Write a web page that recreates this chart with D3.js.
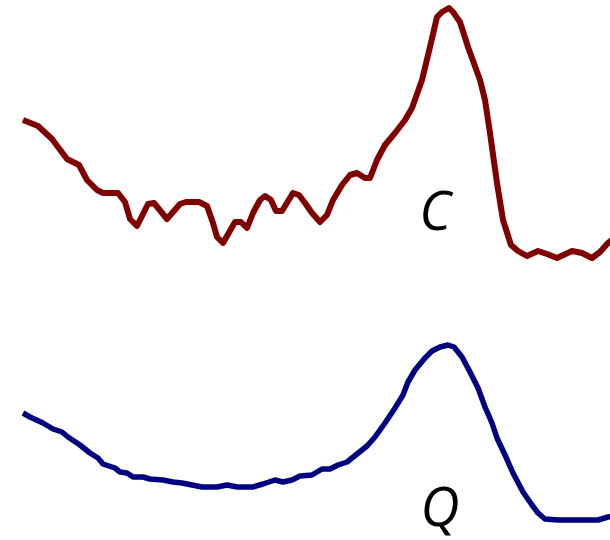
<!DOCTYPE html>
<html>
<head>
<meta charset="utf-8">
<script src="https://cdn.jsdelivr.net/npm/d3@7"></script>
<style>
  html, body { margin: 0; padding: 0; background: #fff; }
  svg { display: block; }
  .lbl { font-family: "Open Sans", sans-serif; font-style: italic; fill: #000; }
</style>
</head>
<body>
<div id="chart"></div>
<script>
// Position along the profile (shared by both traces)
const xC = [0, 3, 5.8, 8.8, 11.2, 12.8, 14.8, 16, 19, 20.4, 21.4, 22.8, 25, 26.2, 28.8, 31.4, 32.6, 35.2, 36.8, 38, 38.8, 40, 42.4, 43.6, 44.8, 46, 47.4, 48.4, 49.6, 50.6, 51.8, 54, 55.2, 56.4, 57.8, 59.4, 60.8, 62, 63.8, 65.4, 66.8, 68.4, 69.4, 70.8, 72.4, 74.4, 76.4, 77.8, 79.8, 81.4, 82.8, 83.8, 85.2, 86, 87.4, 89, 91.4, 92.4, 93.4, 94.8, 96, 97.6, 99, 100.8, 103, 104.8, 106.8, 109.8, 111.8, 113.8, 115.4, 117, 118.2];
// C trace values
const valC = [71, 68, 61.5, 51.5, 48.5, 41, 36, 34.5, 34.5, 30, 21.5, 18, 29, 29.5, 21.5, 29, 30, 30, 28, 19.5, 12.5, 9.5, 20, 20, 17, 24.5, 31, 33, 31, 25.5, 25.5, 34.5, 33.5, 29.5, 24.5, 20, 23.5, 31, 38.5, 43.5, 44.5, 42, 42, 51, 58.5, 64.5, 71, 77, 91, 107.5, 122.5, 125, 127, 125, 120, 107.5, 91, 81, 64.5, 39.5, 21, 8.5, 5.5, 3, 5.5, 4, 2, 5.5, 4.5, 2, 5, 9.5, 12];

const xQ = [0, 1.4, 4, 6, 7.8, 9, 11.4, 13.4, 15, 16, 18.4, 19.4, 20.8, 22, 24, 25.4, 28, 30, 31.8, 33.8, 35.8, 38.8, 40.8, 42.8, 46, 48, 50.4, 52, 53.8, 55.4, 57.8, 59.8, 61.4, 63, 64.8, 66.8, 68.8, 70.4, 72.4, 74.4, 76, 77, 78.4, 80.4, 81.8, 83.4, 85, 86.2, 87.8, 89.4, 91, 92.4, 93.8, 94.8, 96.4, 98, 100, 101.8, 103, 104.4, 107, 115, 117, 118.2];
// Q trace values
const valQ = [54.5, 52.5, 49.5, 46.5, 45, 42.5, 38.5, 34.5, 32, 29, 27, 25, 24.5, 22.5, 22.5, 21.5, 21, 20, 19.5, 18.5, 17.5, 17.5, 18.5, 17.5, 17.5, 19, 21, 20, 21, 23, 23.5, 26.5, 26.5, 28.5, 30, 34, 38, 42.5, 49.5, 57, 63.5, 70, 76, 82, 85.5, 87.5, 88.5, 87.5, 82.5, 75, 67, 57.5, 49.5, 42, 33.5, 24.5, 15, 8.5, 4.5, 1.5, 1, 1, 2.5, 3];

const labels = ["C", "Q"];
const colors = ["#800000", "#000080"];

const W = 610, H = 540;
const svg = d3.select("#chart").append("svg")
  .attr("width", W).attr("height", H);

const x = d3.scaleLinear().domain([0, 117]).range([23, 608]);
const yC = d3.scaleLinear().domain([0, 125]).range([262, 12]);
const yQ = d3.scaleLinear().domain([0, 100]).range([522, 322]);

const panels = [
  { xs: xC, vs: valC, y: yC, color: colors[0], width: 6 },
  { xs: xQ, vs: valQ, y: yQ, color: colors[1], width: 5.5 }
];

panels.forEach(p => {
  const pts = p.xs.map((d, i) => [d, p.vs[i]]);
  const line = d3.line().x(d => x(d[0])).y(d => p.y(d[1]));
  svg.append("path")
    .datum(pts)
    .attr("d", line)
    .attr("fill", "none")
    .attr("stroke", p.color)
    .attr("stroke-width", p.width)
    .attr("stroke-linejoin", "round")
    .attr("stroke-linecap", "butt");
});

// Trace names, placed under each peak
svg.append("text").attr("class", "lbl")
  .attr("x", x(82.4)).attr("y", yC(16))
  .attr("text-anchor", "middle")
  .attr("font-size", 54)
  .text(labels[0]);

svg.append("text").attr("class", "lbl")
  .attr("x", x(83.4)).attr("y", yQ(-2))
  .attr("text-anchor", "middle")
  .attr("font-size", 54)
  .text(labels[1]);
</script>
</body>
</html>
